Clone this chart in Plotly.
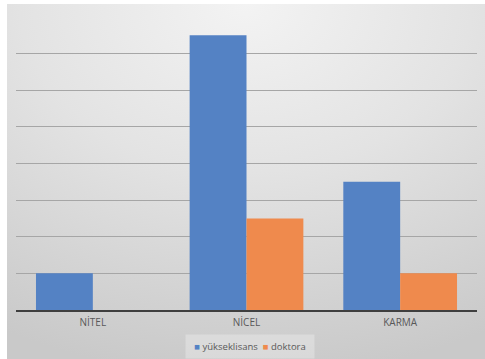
import base64
import plotly.graph_objects as go

# Chart data
categories = ["NİTEL", "NİCEL", "KARMA"]
yukseklisans = [2, 15, 7]
doktora = [0, 5, 2]
series_names = ["yükseklisans", "doktora"]
series_colors = ["#5482c4", "#ef8a4d"]

W, H = 485, 359
ML, MR, MT, MB = 16, 8, 16, 49

# Soft grey radial gradient used as the chart-area background
svg = f"""<svg xmlns='http://www.w3.org/2000/svg' width='{W}' height='{H}' viewBox='0 0 {W} {H}' preserveAspectRatio='none'>
<defs><radialGradient id='g' cx='0.5' cy='0.0' r='1.05' fx='0.5' fy='0.0'>
<stop offset='0' stop-color='#f3f3f3'/>
<stop offset='0.45' stop-color='#e3e3e3'/>
<stop offset='1' stop-color='#c9c9c9'/>
</radialGradient></defs>
<rect x='0' y='0' width='{W}' height='{H}' fill='url(#g)'/>
</svg>"""
bg_uri = "data:image/svg+xml;base64," + base64.b64encode(svg.encode()).decode()

font_family = "Open Sans, Liberation Sans, sans-serif"
text_color = "#595959"

fig = go.Figure()
for name, vals, col in zip(series_names, [yukseklisans, doktora], series_colors):
    fig.add_trace(go.Bar(name=name, x=categories, y=vals,
                         marker=dict(color=col, line=dict(width=0)),
                         showlegend=False))

# Compact legend: small coloured squares followed by the series names
legend_text = "&nbsp;&nbsp;".join(
    f"<span style='color:{c}'>■</span> {n}" for n, c in zip(series_names, series_colors)
)

pw = W - ML - MR
ph = H - MT - MB
fig.update_layout(
    width=W, height=H,
    margin=dict(l=ML, r=MR, t=MT, b=MB, autoexpand=False),
    paper_bgcolor="white",
    plot_bgcolor="rgba(0,0,0,0)",
    barmode="group",
    bargap=0.26,
    bargroupgap=0,
    images=[dict(
        source=bg_uri, xref="paper", yref="paper",
        x=(7 - ML) / pw, y=1 + (MT - 4) / ph,
        sizex=(W - 7) / pw, sizey=(H - 4) / ph,
        xanchor="left", yanchor="top", sizing="stretch", layer="below",
    )],
    annotations=[dict(
        text=legend_text, xref="paper", yref="paper",
        x=(250 - ML) / pw, y=-(346.5 - (H - MB)) / ph,
        xanchor="center", yanchor="middle", showarrow=False,
        font=dict(family=font_family, size=9.5, color=text_color),
        bgcolor="rgba(255,255,255,0.28)",
        borderpad=5, width=118,
    )],
    font=dict(family=font_family, color=text_color),
)

fig.update_xaxes(
    showgrid=False, showline=True, linecolor="#3f3f3f", linewidth=2,
    ticks="", ticklabelstandoff=2,
    tickfont=dict(family=font_family, size=10, color=text_color),
)
fig.update_yaxes(
    range=[0, 16.05], dtick=2, showgrid=True, gridcolor="#a6a6a6", gridwidth=1,
    showticklabels=False, zeroline=False, showline=False, ticks="",
)

fig.write_html("out.html")
